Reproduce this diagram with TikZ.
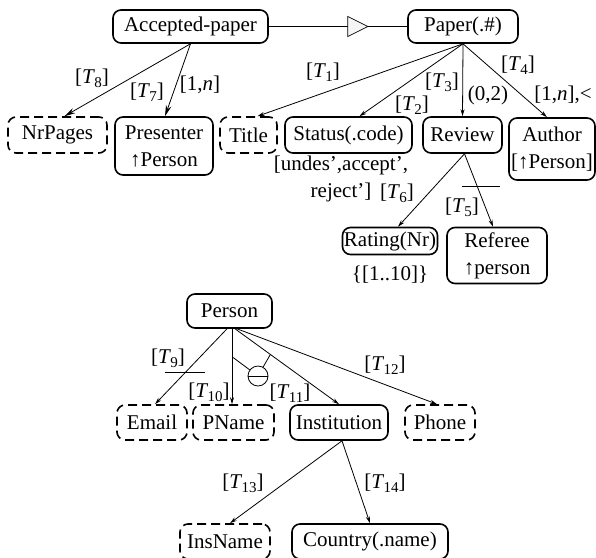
\documentclass[tikz,border=0pt]{standalone}
\usepackage{fontspec}
\setmainfont{Liberation Serif}
\usetikzlibrary{arrows.meta,calc}
\newcommand\Tsub[1]{[\textit{T}\kern-0.6pt\raisebox{-0.45ex}{\fontsize{15}{15}\selectfont #1}]}
\begin{document}
\begin{tikzpicture}[x=1pt,y=-1pt,
  every node/.style={font=\fontsize{21}{27}\selectfont, inner sep=0pt},
  ent/.style={draw, line width=1.6pt, rounded corners=8pt, align=center},
  att/.style={ent, dash pattern=on 9pt off 5pt},
  conn/.style={line width=0.8pt},
  arr/.style={conn, -{Stealth[length=7pt,width=4pt]}},
  bigarr/.style={conn, -{Stealth[length=11pt,width=5.5pt]}}]
\useasboundingbox (0,0) rectangle (596,557);

% ---- paper schema ----
\node[ent, minimum width=155pt, minimum height=33pt] (acc) at (190.5,26.5) {Accepted-paper};
\node[ent, minimum width=110pt, minimum height=33pt] (paper) at (463,26.5) {Paper(.\#)};

\node[att, minimum width=99pt, minimum height=36pt] (nrpages) at (57.5,135) {NrPages};
\node[ent, minimum width=98pt, minimum height=58pt] (presenter) at (164,146) {Presenter\\↑Person};
\node[att, minimum width=57pt, minimum height=36pt] (title) at (248.5,135) {Title};
\node[ent, minimum width=127pt, minimum height=36pt] (status) at (348.5,135) {Status(.code)};
\node[ent, minimum width=79pt, minimum height=36pt] (review) at (462.5,135) {Review};
\node[ent, minimum width=86pt, minimum height=62pt] (author) at (552,149) {Author\\{}[↑Person]};

\node[ent, minimum width=95pt, minimum height=27pt] (rating) at (390,241) {Rating(Nr)};
\node[ent, minimum width=100pt, minimum height=56pt] (referee) at (497,255.5) {Referee\\↑person};

\node[align=center] (statusdom) at (341,178.5) {[undes',accept',\\reject']};
\node (ratingdom) at (390,275) {\{[1..10]\}};

% specialisation link with open triangle
\draw[conn] (acc.east) -- (paper.west) coordinate[pos=0.571] (tri);
\filldraw[line width=0.7pt, fill=gray!8] ($(tri)+(0,-10)$) -- ++(20,10) -- ++(-20,10) -- cycle;

% attribute links
\draw[bigarr] (acc.south) -- ([xshift=7pt]nrpages.north);
\draw[bigarr] (acc.south) -- ([xshift=1pt]presenter.north);
\node (t8) at (92,78) {\Tsub{8}};
\node (t7) at (147,92) {\Tsub{7}};
\node (c17) at (200,85) {[1,\textit{n}]};

\draw[arr] (paper.south) -- ([xshift=9pt]title.north);
\draw[arr] (paper.south) -- ([xshift=11pt]status.north);
\draw[arr] (paper.south) -- (review.north);
\draw[arr] (paper.south) -- ([xshift=-5pt]author.north);
\node (t1) at (323,72) {\Tsub{1}};
\node (t2) at (412,105) {\Tsub{2}};
\node (t3) at (442,82) {\Tsub{3}};
\node (c3) at (488,95) {(0,2)};
\node (t4) at (518,65) {\Tsub{4}};
\node (c4) at (563,95) {[1,\textit{n}],<};

\draw[arr] ([xshift=2pt]review.south) -- ([xshift=8pt]rating.north);
\draw[arr] ([xshift=2pt]review.south) -- ([xshift=-4pt]referee.north) coordinate[pos=0.45] (bar5);
\draw[conn] ([xshift=-15pt]bar5) -- ([xshift=23pt]bar5);
\node (t6) at (397,193) {\Tsub{6}};
\node (t5) at (462,207) {\Tsub{5}};

% ---- person schema ----
\node[ent, minimum width=85pt, minimum height=34pt] (person) at (229.5,311) {Person};
\node[att, minimum width=70pt, minimum height=35pt] (email) at (152,422.5) {Email};
\node[att, minimum width=81pt, minimum height=35pt] (pname) at (233.5,422.5) {PName};
\node[ent, minimum width=98pt, minimum height=35pt] (inst) at (339,422.5) {Institution};
\node[att, minimum width=70pt, minimum height=35pt] (phone) at (440,422.5) {Phone};

\draw[arr] ([xshift=-2.5pt]person.south) -- ([xshift=3pt]email.north) coordinate[pos=0.58] (bar9);
\draw[conn] ([xshift=-20pt]bar9) -- ([xshift=20pt]bar9);
\draw[arr] ([xshift=2.5pt]person.south) -- ([xshift=-1.5pt]pname.north) coordinate[pos=0.37] (xa);
\draw[arr] ([xshift=5.5pt]person.south) -- (inst.north) coordinate[pos=0.34] (xb);
\draw[arr] ([xshift=7.5pt]person.south) -- ([xshift=-3pt]phone.north);

% exclusion marker between PName and Institution
\node[draw, circle, line width=0.8pt, minimum size=20pt] (xor) at (258,376) {};
\draw[conn] (xor.west) -- (xor.east);
\draw[conn] (xa) -- (xor);
\draw[conn] (xor) -- (xb);

\node (t9) at (168,358) {\Tsub{9}};
\node (t10) at (209,392) {\Tsub{10}};
\node (t11) at (290,393) {\Tsub{11}};
\node (t12) at (385,365) {\Tsub{12}};

\node[att, minimum width=90pt, minimum height=35pt] (insname) at (225,541.5) {InsName};
\node[ent, minimum width=156pt, minimum height=35pt] (country) at (370,541.5) {Country(.name)};

\draw[arr] ([xshift=3pt]inst.south) -- ([xshift=5pt]insname.north);
\draw[arr] ([xshift=3pt]inst.south) -- (country.north);
\node (t13) at (243,483) {\Tsub{13}};
\node (t14) at (385,483) {\Tsub{14}};
\end{tikzpicture}
\end{document}
